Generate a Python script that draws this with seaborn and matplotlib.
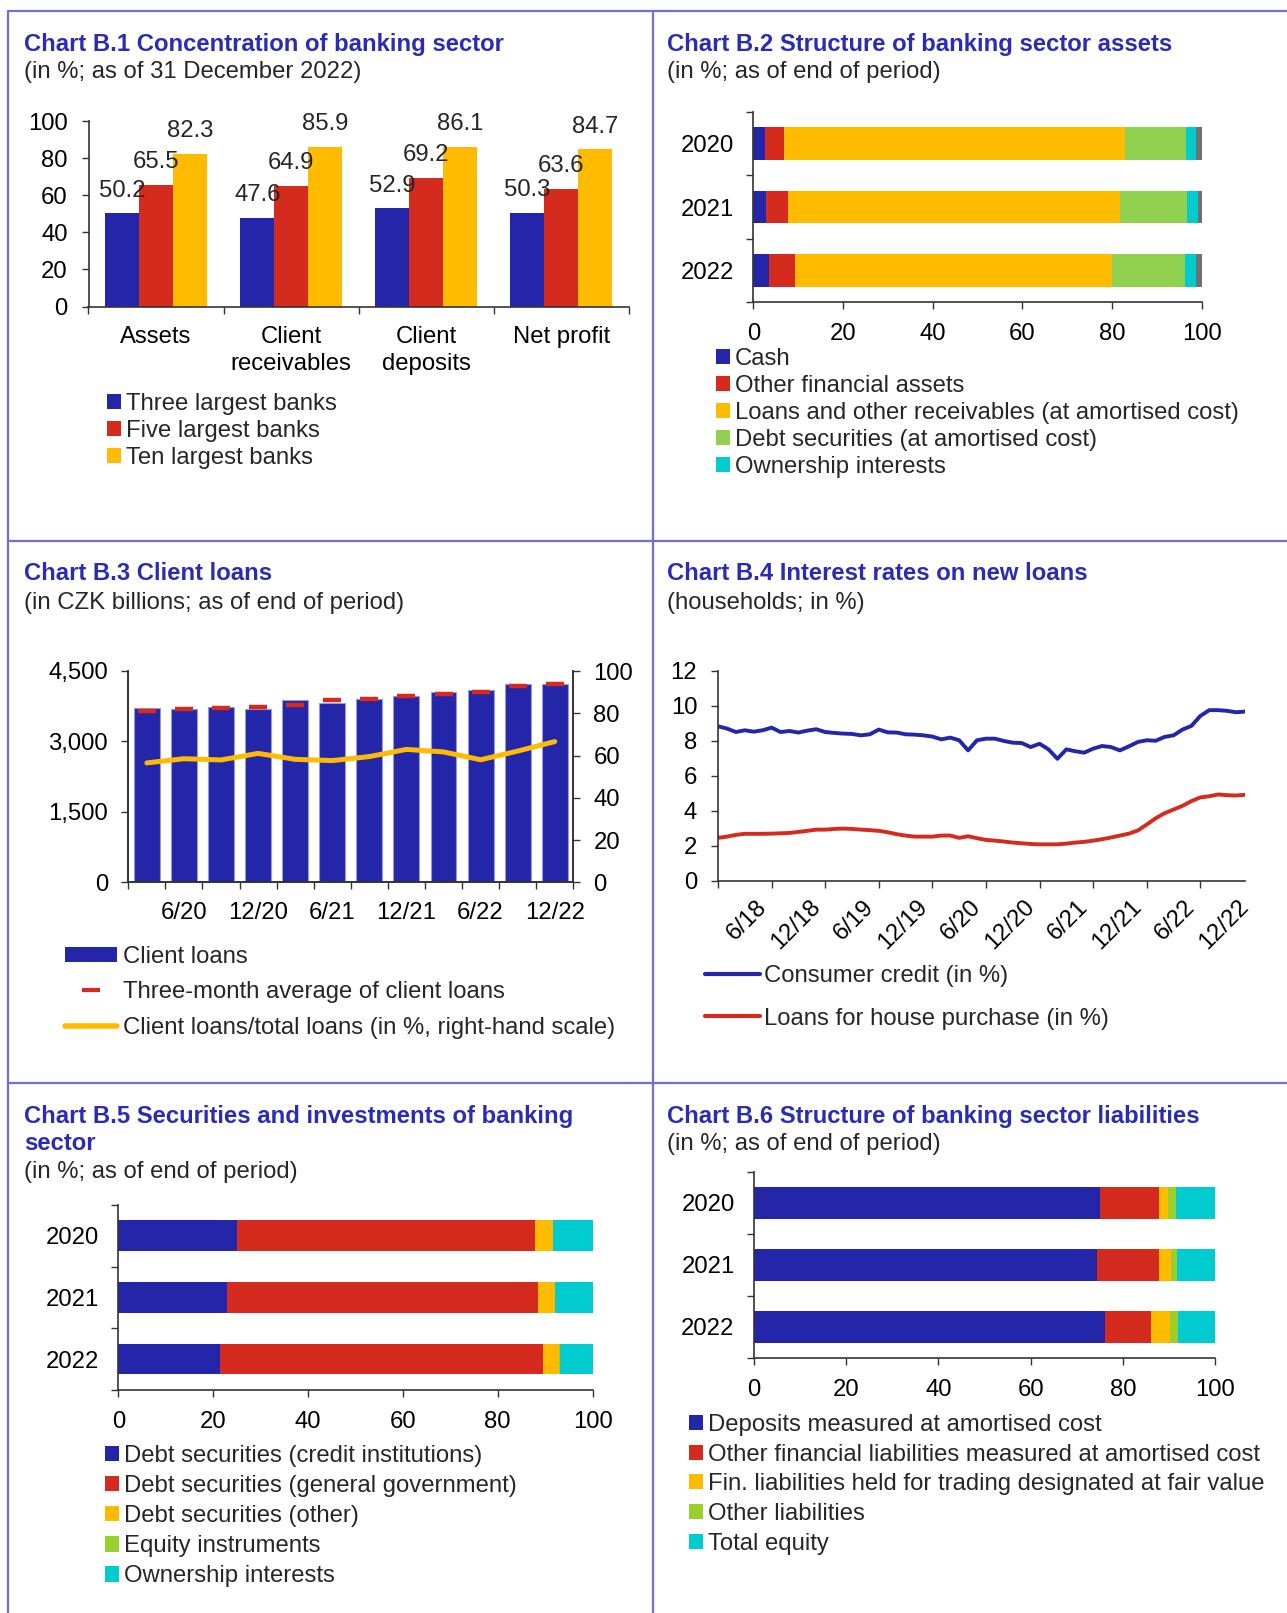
import numpy as np
import pandas as pd
import matplotlib
matplotlib.use("Agg")
import matplotlib.pyplot as plt
import seaborn as sns
from matplotlib.patches import Patch
from matplotlib.lines import Line2D

# ---------------- DATA ----------------
# B.1
b1_categories = ["Assets", "Client\nreceivables", "Client\ndeposits", "Net profit"]
b1_series = ["Three largest banks", "Five largest banks", "Ten largest banks"]
b1_three = [50.2, 47.6, 52.9, 50.3]
b1_five = [65.5, 64.9, 69.2, 63.6]
b1_ten = [82.3, 85.9, 86.1, 84.7]

# B.2
years = ["2020", "2021", "2022"]
b2_labels = ["Cash", "Other financial assets",
             "Loans and other receivables (at amortised cost)",
             "Debt securities (at amortised cost)", "Ownership interests"]
b2_cash = [2.7, 2.8, 3.5]
b2_other_fin = [4.2, 4.9, 5.8]
b2_loans = [76.1, 74.0, 70.7]
b2_debt = [13.4, 15.0, 16.3]
b2_ownership = [2.4, 2.5, 2.4]
b2_other_assets = [1.2, 0.8, 1.3]

# B.3
b3_quarters = ["3/20", "6/20", "9/20", "12/20", "3/21", "6/21", "9/21", "12/21",
               "3/22", "6/22", "9/22", "12/22"]
b3_tick_labels = ["6/20", "12/20", "6/21", "12/21", "6/22", "12/22"]
b3_client_loans = [3705, 3690, 3740, 3698, 3875, 3818, 3896, 3967, 4045, 4088, 4216, 4216]
b3_three_month_avg = [3648, 3690, 3719, 3733, 3776, 3882, 3903, 3967, 4017, 4053, 4180, 4223]
b3_ratio = [56.5, 58.5, 57.9, 61.0, 58.2, 57.6, 59.5, 62.9, 61.7, 58.0, 62.1, 66.6]

# B.4 (monthly, 1/2018 - 12/2022)
b4_tick_labels = ["6/18", "12/18", "6/19", "12/19", "6/20", "12/20", "6/21", "12/21", "6/22", "12/22"]
b4_consumer = [8.83, 8.70, 8.50, 8.60, 8.52, 8.60, 8.75, 8.50, 8.56, 8.47,
               8.58, 8.66, 8.50, 8.45, 8.41, 8.39, 8.31, 8.37, 8.64, 8.48,
               8.47, 8.37, 8.35, 8.31, 8.24, 8.08, 8.18, 8.03, 7.45, 8.03,
               8.12, 8.12, 7.99, 7.89, 7.87, 7.64, 7.83, 7.51, 6.97, 7.51,
               7.40, 7.32, 7.55, 7.70, 7.64, 7.45, 7.68, 7.93, 8.03, 8.00,
               8.22, 8.31, 8.64, 8.85, 9.42, 9.75, 9.75, 9.71, 9.63, 9.67]
b4_house = [2.45, 2.52, 2.62, 2.68, 2.68, 2.68, 2.69, 2.71, 2.73, 2.79,
            2.85, 2.92, 2.92, 2.96, 2.98, 2.96, 2.92, 2.89, 2.85, 2.77,
            2.66, 2.58, 2.52, 2.52, 2.52, 2.58, 2.58, 2.45, 2.54, 2.43,
            2.33, 2.29, 2.24, 2.18, 2.14, 2.10, 2.08, 2.08, 2.08, 2.12,
            2.18, 2.22, 2.29, 2.37, 2.47, 2.58, 2.69, 2.87, 3.21, 3.57,
            3.86, 4.07, 4.28, 4.55, 4.76, 4.83, 4.93, 4.89, 4.87, 4.91]

# B.5
b5_labels = ["Debt securities (credit institutions)", "Debt securities (general government)",
             "Debt securities (other)", "Equity instruments", "Ownership interests"]
b5_credit = [25.0, 22.9, 21.4]
b5_government = [62.8, 65.5, 68.1]
b5_other = [3.8, 3.6, 3.5]
b5_equity = [0.1, 0.1, 0.1]
b5_ownership = [8.3, 7.9, 6.9]

# B.6
b6_labels = ["Deposits measured at amortised cost",
             "Other financial liabilities measured at amortised cost",
             "Fin. liabilities held for trading designated at fair value",
             "Other liabilities", "Total equity"]
b6_deposits = [75.1, 74.4, 76.1]
b6_other_fin = [12.8, 13.4, 10.0]
b6_trading = [2.0, 2.7, 4.1]
b6_other_liab = [1.6, 1.3, 1.8]
b6_equity = [8.5, 8.2, 8.0]

# ---------------- STYLE ----------------
sns.set_style("ticks")
FS = 17.2
plt.rcParams["font.family"] = ["Liberation Sans", "DejaVu Sans"]
plt.rcParams["font.size"] = FS
plt.rcParams["axes.edgecolor"] = "#333333"
plt.rcParams["axes.linewidth"] = 1.2
plt.rcParams["xtick.color"] = "#333333"
plt.rcParams["ytick.color"] = "#333333"
plt.rcParams["xtick.labelcolor"] = "black"
plt.rcParams["ytick.labelcolor"] = "black"
plt.rcParams["xtick.labelsize"] = FS
plt.rcParams["ytick.labelsize"] = FS

BLUE = "#2326A8"
RED = "#D52B1E"
YELLOW = "#FFBB00"
GREEN = "#92D050"
CYAN = "#00CCD0"
GRAY = "#707070"
TITLE = "#2A2DB4"
FRAME = "#6E6EDC"

W, H = 1287, 1613
fig = plt.figure(figsize=(W / 100, H / 100), dpi=100)


def rect(x0, y0, x1, y1):
    return [x0 / W, 1 - y1 / H, (x1 - x0) / W, (y1 - y0) / H]


def ftext(x, y, s, **kw):
    fig.text(x / W, 1 - (y + 2) / H, s, ha="left", va="center", fontsize=FS, **kw)


def flegend(handles, labels, x, y_top, **kw):
    fig.legend(handles=handles, labels=labels, loc="upper left",
               bbox_to_anchor=(x / W, 1 - y_top / H), bbox_transform=fig.transFigure,
               frameon=False, borderpad=0, borderaxespad=0, fontsize=FS, **kw)


def square_handles(colors):
    return [Patch(facecolor=c, edgecolor="none") for c in colors]


# frame lines
for yy in [11.3, 541.2, 1083.3]:
    fig.add_artist(Line2D([8 / W, 1], [1 - yy / H, 1 - yy / H], color=FRAME, lw=1.6,
                          transform=fig.transFigure))
for xx in [8.2, 652.5]:
    fig.add_artist(Line2D([xx / W, xx / W], [1 - 11.3 / H, 0], color=FRAME, lw=1.6,
                          transform=fig.transFigure))

# ---------------- B.1 ----------------
ax1 = fig.add_axes(rect(88.5, 121, 628.6, 306.5))
df1 = pd.DataFrame({
    "category": b1_categories * 3,
    "series": [b1_series[0]] * 4 + [b1_series[1]] * 4 + [b1_series[2]] * 4,
    "value": b1_three + b1_five + b1_ten,
})
sns.barplot(data=df1, x="category", y="value", hue="series", order=b1_categories,
            hue_order=b1_series, palette=[BLUE, RED, YELLOW], saturation=1,
            width=0.75, linewidth=0, ax=ax1, legend=False)
for cont in ax1.containers:
    ax1.bar_label(cont, fmt="%.1f", padding=8.5, fontsize=FS)
ax1.set_ylim(0, 100)
ax1.set_yticks(range(0, 101, 20))
ax1.set_xlim(-0.5, 3.5)
ax1.set_xticks(np.arange(-0.5, 4, 1), minor=True)
for lab in ax1.get_xticklabels():
    lab.set_linespacing(1.3)
ax1.tick_params(axis="x", which="major", length=0, pad=14)
ax1.tick_params(axis="x", which="minor", length=5, width=1)
ax1.tick_params(axis="y", length=5, width=1, pad=10)
ax1.set_xlabel("")
ax1.set_ylabel("")
sns.despine(ax=ax1)

ftext(23.7, 42.2, "Chart B.1 Concentration of banking sector", color=TITLE, fontweight="bold")
ftext(23.7, 70, "(in %; as of 31 December 2022)")
flegend(square_handles([BLUE, RED, YELLOW]), b1_series, 107, 393,
        handlelength=0.6, handleheight=0.6, handletextpad=0.2, labelspacing=0.2)

# ---------------- B.2 ----------------
ax2 = fig.add_axes(rect(753.3, 111.7, 1201.7, 302.3))
b2_stack = np.cumsum(np.array([b2_cash, b2_other_fin, b2_loans, b2_debt, b2_ownership,
                               b2_other_assets]), axis=0)
b2_colors = [BLUE, RED, YELLOW, GREEN, CYAN, GRAY]
for i in reversed(range(len(b2_colors))):
    sns.barplot(x=b2_stack[i], y=years, orient="h", color=b2_colors[i], saturation=1,
                width=0.51, linewidth=0, ax=ax2)
ax2.set_xlim(0, 100)
ax2.set_xticks(range(0, 101, 20))
ax2.set_ylim(2.5, -0.5)
ax2.set_yticks(np.arange(-0.5, 3, 1), minor=True)
ax2.tick_params(axis="y", which="major", length=0, pad=14)
ax2.tick_params(axis="y", which="minor", length=5, width=1)
ax2.tick_params(axis="x", length=5, width=1, pad=10)
ax2.set_xlabel("")
ax2.set_ylabel("")
sns.despine(ax=ax2)

ftext(666.7, 42.2, "Chart B.2 Structure of banking sector assets", color=TITLE, fontweight="bold")
ftext(666.7, 70, "(in %; as of end of period)")
flegend(square_handles(b2_colors[:5]), b2_labels, 716, 348,
        handlelength=0.6, handleheight=0.6, handletextpad=0.2, labelspacing=0.21)

# ---------------- B.3 ----------------
ax3 = fig.add_axes(rect(128.3, 671, 573.3, 882.3))
sns.barplot(x=b3_quarters, y=b3_client_loans, color=BLUE, saturation=1, width=0.7,
            edgecolor="#9A9AD8", linewidth=0.8, ax=ax3)
sns.scatterplot(x=np.arange(len(b3_quarters)), y=b3_three_month_avg, marker="_", s=170,
                linewidth=3.2, color=RED, ax=ax3, zorder=4)
ax3.set_ylim(0, 4500)
ax3.set_yticks([0, 1500, 3000, 4500])
ax3.set_yticklabels(["0", "1,500", "3,000", "4,500"])
ax3.set_xlim(-0.5, 11.5)
ax3.set_xticks(np.arange(1, 12, 2))
ax3.set_xticklabels(b3_tick_labels)
ax3.set_xticks(np.arange(-0.5, 12, 1), minor=True)
ax3.tick_params(axis="x", which="major", length=0, pad=14)
ax3.tick_params(axis="x", which="minor", length=5, width=1)
ax3.tick_params(axis="y", length=5, width=1, pad=9.5)
ax3.set_xlabel("")
ax3.set_ylabel("")
ax3b = ax3.twinx()
sns.lineplot(x=np.arange(len(b3_quarters)), y=b3_ratio, color=YELLOW, lw=3.6, ax=ax3b)
ax3b.set_ylim(0, 100)
ax3b.set_yticks(range(0, 101, 20))
ax3b.tick_params(axis="y", length=5, width=1, pad=9.5)
ax3b.set_ylabel("")
for a in (ax3, ax3b):
    a.spines["top"].set_visible(False)

ftext(23.7, 572, "Chart B.3 Client loans", color=TITLE, fontweight="bold")
ftext(23.7, 600.8, "(in CZK billions; as of end of period)")
b3_handles = [Patch(facecolor=BLUE, edgecolor="none"),
              Line2D([], [], color=RED, marker="_", linestyle="none", markersize=13, mew=3),
              Line2D([], [], color=YELLOW, lw=4)]
flegend(b3_handles, ["Client loans", "Three-month average of client loans",
                     "Client loans/total loans (in %, right-hand scale)"], 64.8, 946,
        handlelength=2.2, handleheight=0.6, handletextpad=0.25, labelspacing=0.56)

# ---------------- B.4 ----------------
ax4 = fig.add_axes(rect(718, 670.8, 1245, 880.7))
months = np.arange(len(b4_consumer))
sns.lineplot(x=months, y=b4_consumer, color=BLUE, lw=2.8, ax=ax4)
sns.lineplot(x=months, y=b4_house, color=RED, lw=2.8, ax=ax4)
ax4.set_xlim(0, 59)
ax4.set_ylim(0, 12)
ax4.set_yticks(range(0, 13, 2))
ax4.set_xticks(np.arange(0, 59, 6), minor=True)
ax4.set_xticks(np.arange(4.2, 60, 6))
ax4.set_xticklabels(b4_tick_labels, rotation=45, ha="right", rotation_mode="anchor")
ax4.tick_params(axis="x", which="major", length=0, pad=11)
ax4.tick_params(axis="x", which="minor", length=5, width=1)
ax4.tick_params(axis="y", length=5, width=1, pad=10)
ax4.set_xlabel("")
ax4.set_ylabel("")
sns.despine(ax=ax4)

ftext(666.7, 572, "Chart B.4 Interest rates on new loans", color=TITLE, fontweight="bold")
ftext(666.7, 600.8, "(households; in %)")
flegend([Line2D([], [], color=BLUE, lw=3), Line2D([], [], color=RED, lw=3)],
        ["Consumer credit (in %)", "Loans for house purchase (in %)"], 704.7, 965,
        handlelength=2.3, handletextpad=0.2, labelspacing=0.86)

# ---------------- B.5 ----------------
ax5 = fig.add_axes(rect(118.3, 1204.8, 592.6, 1389.9))
b5_stack = np.cumsum(np.array([b5_credit, b5_government, b5_other, b5_equity, b5_ownership]), axis=0)
b5_colors = [BLUE, RED, YELLOW, "#9BCF2F", CYAN]
for i in reversed(range(len(b5_colors))):
    sns.barplot(x=b5_stack[i], y=years, orient="h", color=b5_colors[i], saturation=1,
                width=0.5, linewidth=0, ax=ax5)
ax5.set_xlim(0, 100)
ax5.set_xticks(range(0, 101, 20))
ax5.set_ylim(2.5, -0.5)
ax5.set_yticks(np.arange(-0.5, 3, 1), minor=True)
ax5.tick_params(axis="y", which="major", length=0, pad=14)
ax5.tick_params(axis="y", which="minor", length=5, width=1)
ax5.tick_params(axis="x", length=5, width=1, pad=10)
ax5.set_xlabel("")
ax5.set_ylabel("")
sns.despine(ax=ax5)

ftext(23.7, 1114.2, "Chart B.5 Securities and investments of banking", color=TITLE, fontweight="bold")
ftext(23.7, 1141, "sector", color=TITLE, fontweight="bold")
ftext(23.7, 1169.7, "(in %; as of end of period)")
flegend(square_handles(b5_colors), b5_labels, 105, 1445,
        handlelength=0.6, handleheight=0.6, handletextpad=0.2, labelspacing=0.34)

# ---------------- B.6 ----------------
ax6 = fig.add_axes(rect(754, 1171.8, 1215, 1358))
b6_stack = np.cumsum(np.array([b6_deposits, b6_other_fin, b6_trading, b6_other_liab, b6_equity]), axis=0)
b6_colors = [BLUE, RED, YELLOW, "#9BCF2F", CYAN]
for i in reversed(range(len(b6_colors))):
    sns.barplot(x=b6_stack[i], y=years, orient="h", color=b6_colors[i], saturation=1,
                width=0.51, linewidth=0, ax=ax6)
ax6.set_xlim(0, 100)
ax6.set_xticks(range(0, 101, 20))
ax6.set_ylim(2.5, -0.5)
ax6.set_yticks(np.arange(-0.5, 3, 1), minor=True)
ax6.tick_params(axis="y", which="major", length=0, pad=14)
ax6.tick_params(axis="y", which="minor", length=5, width=1)
ax6.tick_params(axis="x", length=5, width=1, pad=10)
ax6.set_xlabel("")
ax6.set_ylabel("")
sns.despine(ax=ax6)

ftext(666.7, 1114.2, "Chart B.6 Structure of banking sector liabilities", color=TITLE, fontweight="bold")
ftext(666.7, 1142, "(in %; as of end of period)")
flegend(square_handles(b6_colors), b6_labels, 689, 1414,
        handlelength=0.6, handleheight=0.6, handletextpad=0.2, labelspacing=0.32)

fig.savefig("out.png", dpi=100)
